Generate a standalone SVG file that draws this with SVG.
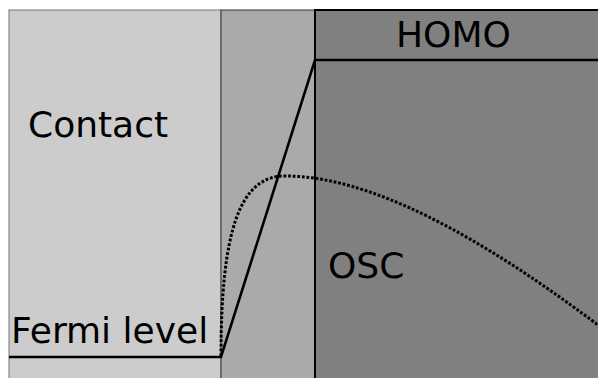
<svg xmlns="http://www.w3.org/2000/svg" width="598" height="378" viewBox="0 0 598 378">
<style>
text{font-family:"DejaVu Sans","Liberation Sans",sans-serif;font-size:36px;fill:#000}
.solid{fill:none;stroke:#000;stroke-width:2.6}
.dot{fill:none;stroke:#000;stroke-width:3;stroke-dasharray:2.8 1.8}
</style>
<rect width="598" height="378" fill="#fff"/>
<g id="contact">
<rect x="9" y="10" width="212" height="380" fill="#cccccc" stroke="#777" stroke-width="1"/>
<text x="28" y="137">Contact</text>
<text x="11" y="343">Fermi level</text>
</g>
<g id="interface">
<rect x="221" y="10" width="94" height="380" fill="#aaaaaa" stroke="#333" stroke-width="1"/>
</g>
<g id="osc">
<rect x="315" y="10" width="300" height="380" fill="#808080" stroke="#000" stroke-width="2"/>
<text x="396" y="47">HOMO</text>
<text x="328" y="278">OSC</text>
</g>
<g id="connectors">
<path class="solid" d="M9,357 H221 L315,60 H600"/>
<path class="dot" d="M221,356 C221,230 240,176 285,176 C370,176 478,235 598,325"/>
</g>
</svg>
